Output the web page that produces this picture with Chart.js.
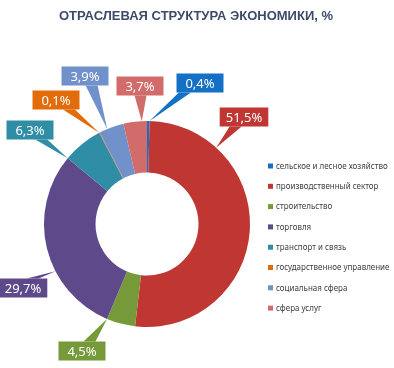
<!DOCTYPE html>
<html>
<head>
<meta charset="utf-8">
<script src="https://cdn.jsdelivr.net/npm/chart.js@4"></script>
<style>
  body { margin: 0; background: #fff; }
  #wrap { width: 394px; height: 368px; position: relative; }
</style>
</head>
<body>
<div id="wrap"><canvas id="grafico"></canvas></div>
<script>
// Dados
const setores = [
    'сельское и лесное хозяйство',
    'производственный сектор',
    'строительство',
    'торговля',
    'транспорт и связь',
    'государственное управление',
    'социальная сфера',
    'сфера услуг'
];
const valores = [0.4, 51.5, 4.5, 29.7, 6.3, 0.1, 3.9, 3.7];
const titulo = 'ОТРАСЛЕВАЯ СТРУКТУРА ЭКОНОМИКИ, %';

// Estilo
const cores = ['#1470C4', '#BF3633', '#76993A', '#5E4A8A', '#2F8DA5', '#E36C0A', '#7191CB', '#D26C6B'];
// posição das caixas (centro) relativa ao centro do donut
const posCaixas = [[53, -141], [97, -107], [-65, 127], [-124, 64], [-117, -94], [-91, -124], [-62, -148], [-7, -138]];

const formatar = v => v.toFixed(1).replace('.', ',') + '%';

const extras = {
    id: 'extras',
    afterDatasetsDraw(chart) {
        const ctx = chart.ctx;
        const arcs = chart.getDatasetMeta(0).data;
        ctx.save();
        ctx.font = '13px "Noto Sans", sans-serif';
        arcs.forEach((arc, i) => {
            const p = arc.getProps(['x', 'y', 'startAngle', 'endAngle', 'outerRadius'], true);
            const bx = p.x + posCaixas[i][0];
            const by = p.y + posCaixas[i][1];
            let a = Math.atan2(by - p.y, bx - p.x);
            while (a < p.startAngle) a += Math.PI * 2;
            while (a >= p.startAngle + Math.PI * 2) a -= Math.PI * 2;
            if (a > p.endAngle) {
                a = (a - p.endAngle) < (p.startAngle + Math.PI * 2 - a) ? p.endAngle : p.startAngle;
            }
            const tx = p.x + p.outerRadius * Math.cos(a);
            const ty = p.y + p.outerRadius * Math.sin(a);

            const texto = formatar(valores[i]);
            const w = Math.max(ctx.measureText(texto).width + 12, 47);
            const h = 19;
            const l = bx - w / 2, r = bx + w / 2, t = by - h / 2, b = by + h / 2;

            ctx.fillStyle = cores[i];
            ctx.fillRect(l, t, w, h);

            // ponteiro
            ctx.beginPath();
            if (ty > b || ty < t) {
                const ey = ty > b ? b : t;
                const cx = Math.min(Math.max(bx + (tx - bx) * 0.3, l + 7), r - 7);
                ctx.moveTo(cx - 6, ey);
                ctx.lineTo(tx, ty);
                ctx.lineTo(cx + 6, ey);
            } else {
                const ex = tx > r ? r : l;
                const cy = Math.min(Math.max(by, t + 5), b - 5);
                ctx.moveTo(ex, cy - 5);
                ctx.lineTo(tx, ty);
                ctx.lineTo(ex, cy + 5);
            }
            ctx.closePath();
            ctx.fill();

            ctx.fillStyle = '#fff';
            ctx.textAlign = 'center';
            ctx.textBaseline = 'middle';
            ctx.fillText(texto, bx, by + 1);
        });
        ctx.restore();
    },
    afterDraw(chart) {
        const ctx = chart.ctx;
        ctx.save();
        // título
        ctx.font = 'bold 13px "Liberation Sans", Arial, sans-serif';
        ctx.fillStyle = '#3E4A6A';
        ctx.textAlign = 'center';
        ctx.textBaseline = 'alphabetic';
        ctx.fillText(titulo, 196, 20);

        // legenda
        ctx.font = '9.5px "Noto Sans", sans-serif';
        ctx.textAlign = 'left';
        ctx.textBaseline = 'middle';
        setores.forEach((s, i) => {
            const y = 166 + i * 20.3;
            ctx.fillStyle = cores[i];
            ctx.fillRect(268, y - 2.5, 5, 5);
            ctx.fillStyle = '#404040';
            ctx.fillText(s, 276, y, ctx.measureText(s).width * 0.84);
        });
        ctx.restore();
    }
};

new Chart(document.getElementById('grafico'), {
    type: 'doughnut',
    data: {
        labels: setores,
        datasets: [{
            data: valores,
            backgroundColor: cores,
            borderWidth: 0
        }]
    },
    options: {
        responsive: true,
        maintainAspectRatio: false,
        animation: false,
        cutout: '50%',
        layout: { padding: { left: 44, right: 144, top: 121, bottom: 41 } },
        plugins: {
            legend: { display: false },
            tooltip: { enabled: false }
        }
    },
    plugins: [extras]
});
</script>
</body>
</html>
